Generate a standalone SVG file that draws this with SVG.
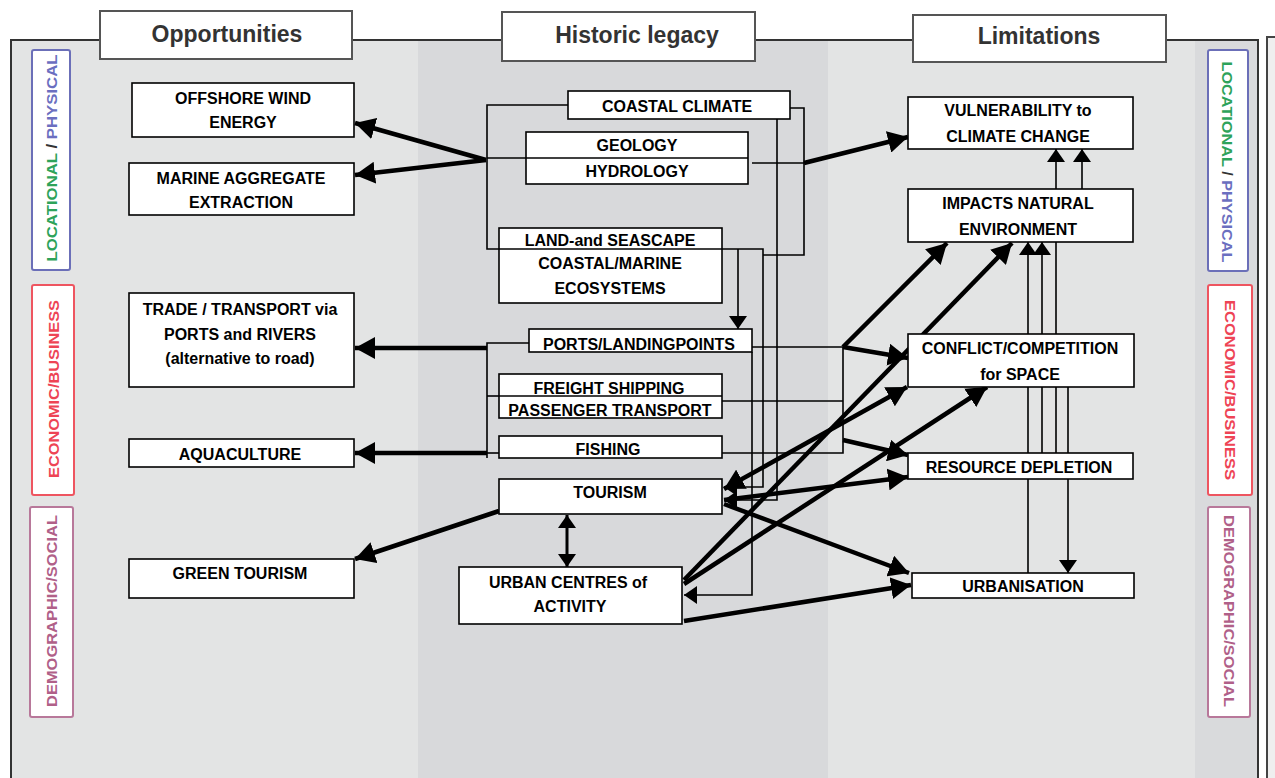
<svg xmlns="http://www.w3.org/2000/svg" width="1275" height="778" viewBox="0 0 1275 778">
<style>
.nb{fill:#fff;stroke:#000;stroke-width:1.6}
.nt{font-family:"Liberation Sans",Arial,sans-serif;font-weight:bold;font-size:16px;fill:#000;text-anchor:middle}
.ht{font-family:"Liberation Sans",Arial,sans-serif;font-weight:bold;font-size:23px;fill:#333;text-anchor:middle}
.hb{fill:#fff;stroke:#555;stroke-width:2}
.ct{font-family:"Liberation Sans",Arial,sans-serif;font-weight:bold;font-size:14px;text-anchor:middle;dominant-baseline:central}
.thin{fill:none;stroke:#000;stroke-width:1.6}
.thick{fill:none;stroke:#000;stroke-width:4.5}
.dv{stroke:#000;stroke-width:1.6}
</style>
<defs>
<marker id="ah" markerUnits="userSpaceOnUse" markerWidth="22" markerHeight="22" viewBox="0 0 22 22" refX="20" refY="11" orient="auto-start-reverse"><path d="M0,0 L20,11 L0,22 z" fill="#000"/></marker>
<marker id="as" markerUnits="userSpaceOnUse" markerWidth="14" markerHeight="18" viewBox="0 0 14 18" refX="13" refY="9" orient="auto-start-reverse"><path d="M0,0 L13,9 L0,18 z" fill="#000"/></marker>
</defs>
<rect x="0" y="0" width="1275" height="778" fill="#fff"/>
<g id="background">
<rect x="11" y="40" width="407" height="738" fill="#e3e4e4"/>
<rect x="418" y="40" width="410" height="738" fill="#d8d9db"/>
<rect x="828" y="40" width="367" height="738" fill="#e3e4e4"/>
<rect x="1195" y="40" width="63" height="738" fill="#d9dadc"/>
<rect x="1267" y="37" width="8" height="741" fill="#efefef"/>
<rect x="11" y="40" width="1247" height="760" fill="none" stroke="#333" stroke-width="2"/>
<path d="M1267,778 V37 H1275" fill="none" stroke="#444" stroke-width="2"/>
</g>
<g id="headers">
<rect class="hb" x="100" y="11" width="252" height="48"/>
<text class="ht" x="227" y="42">Opportunities</text>
<rect class="hb" x="502" y="12" width="253" height="49"/>
<text class="ht" x="637" y="43">Historic legacy</text>
<rect class="hb" x="913" y="15" width="253" height="47"/>
<text class="ht" x="1039" y="44">Limitations</text>
</g>
<g id="categories">
<rect x="32" y="50" width="38" height="220" rx="2" fill="#fff" stroke="#6b6fb8" stroke-width="2"/>
<text class="ct" transform="translate(52,158) rotate(-90)" textLength="207" lengthAdjust="spacingAndGlyphs"><tspan fill="#2ea35a">LOCATIONAL</tspan><tspan fill="#333"> / </tspan><tspan fill="#6b6fc0">PHYSICAL</tspan></text>
<rect x="32" y="285" width="42" height="210" rx="2" fill="#fff" stroke="#ee5560" stroke-width="2"/>
<text class="ct" transform="translate(54,389) rotate(-90)" fill="#ee4455" textLength="178" lengthAdjust="spacingAndGlyphs">ECONOMIC/BUSINESS</text>
<rect x="30" y="507" width="43" height="210" rx="2" fill="#fff" stroke="#b8789a" stroke-width="2"/>
<text class="ct" transform="translate(52,611) rotate(-90)" fill="#b06088" textLength="192" lengthAdjust="spacingAndGlyphs">DEMOGRAPHIC/SOCIAL</text>
<rect x="1208" y="50" width="40" height="221" rx="2" fill="#fff" stroke="#6b6fb8" stroke-width="2"/>
<text class="ct" transform="translate(1227,162) rotate(90)" textLength="201" lengthAdjust="spacingAndGlyphs"><tspan fill="#2ea35a">LOCATIONAL</tspan><tspan fill="#333"> / </tspan><tspan fill="#6b6fc0">PHYSICAL</tspan></text>
<rect x="1208" y="285" width="44" height="210" rx="2" fill="#fff" stroke="#ee5560" stroke-width="2"/>
<text class="ct" transform="translate(1230,390) rotate(90)" fill="#ee4455" textLength="180" lengthAdjust="spacingAndGlyphs">ECONOMIC/BUSINESS</text>
<rect x="1208" y="507" width="42" height="210" rx="2" fill="#fff" stroke="#b8789a" stroke-width="2"/>
<text class="ct" transform="translate(1229,611) rotate(90)" fill="#b06088" textLength="192" lengthAdjust="spacingAndGlyphs">DEMOGRAPHIC/SOCIAL</text>
</g>
<g id="connectors">
<path class="thin" d="M568,105 H487 V249 H763 V487 H724" marker-end="url(#as)"/>
<path class="thin" d="M487,158 H526"/>
<path class="thin" d="M790,108 H804 V255 H763"/>
<path class="thin" d="M752,163 H804"/>
<path class="thin" d="M777,119 V500 H724" marker-end="url(#as)"/>
<path class="thin" d="M738,249 V329" marker-end="url(#as)"/>
<path class="thin" d="M752,352 V595 H684" marker-end="url(#as)"/>
<path class="thin" d="M752,347 H843 V453 H722"/>
<path class="thin" d="M722,401 H843"/>
<path class="thin" d="M529,343 H487 V458"/>
<path class="thin" d="M499,396 H487"/>
<path class="thin" d="M499,453 H487"/>
<path class="thin" d="M1082,189 V149" marker-end="url(#as)"/>
<path class="thin" d="M1056,453 V149" marker-end="url(#as)"/>
<path class="thin" d="M1028,573 V242" marker-end="url(#as)"/>
<path class="thin" d="M1042,453 V242" marker-end="url(#as)"/>
<path class="thin" d="M1068,387 V573" marker-end="url(#as)"/>
<path class="thick" d="M486,160 L355,123" marker-end="url(#ah)"/>
<path class="thick" d="M486,160 L355,175" marker-end="url(#ah)"/>
<path class="thick" d="M804,163 L908,137" marker-end="url(#ah)"/>
<path class="thick" d="M487,348 L355,348" marker-end="url(#ah)"/>
<path class="thick" d="M487,453 L355,453" marker-end="url(#ah)"/>
<path class="thick" d="M843,347 L947,243" marker-end="url(#ah)"/>
<path class="thick" d="M843,347 L908,358" marker-end="url(#ah)"/>
<path class="thick" d="M843,440 L908,455" marker-end="url(#ah)"/>
<path class="thick" d="M724,489 L907,387" marker-start="url(#ah)" marker-end="url(#ah)"/>
<path class="thick" d="M724,500 L908,477" marker-end="url(#ah)"/>
<path class="thick" d="M724,504 L909,573" marker-end="url(#ah)"/>
<path class="thick" d="M684,580 L1012,243" marker-end="url(#ah)"/>
<path class="thick" d="M684,584 L987,387" marker-end="url(#ah)"/>
<path class="thick" d="M684,621 L911,585" marker-end="url(#ah)"/>
<path class="thick" d="M499,511 L355,559" marker-end="url(#ah)"/>
<path class="thin" style="stroke-width:3" d="M567,515 V567" marker-start="url(#as)" marker-end="url(#as)"/>
</g>
<g id="offshore"><rect class="nb" x="132" y="83" width="222" height="54"/><text class="nt" x="243" y="104">OFFSHORE WIND</text><text class="nt" x="243" y="128">ENERGY</text></g>
<g id="marine"><rect class="nb" x="129" y="163" width="225" height="52"/><text class="nt" x="241" y="184">MARINE AGGREGATE</text><text class="nt" x="241" y="208">EXTRACTION</text></g>
<g id="trade"><rect class="nb" x="129" y="293" width="225" height="94"/><text class="nt" x="240" y="315">TRADE / TRANSPORT via</text><text class="nt" x="240" y="340">PORTS and RIVERS</text><text class="nt" x="240" y="364">(alternative to road)</text></g>
<g id="aquaculture"><rect class="nb" x="129" y="439" width="225" height="28"/><text class="nt" x="240" y="460">AQUACULTURE</text></g>
<g id="greentourism"><rect class="nb" x="129" y="559" width="225" height="39"/><text class="nt" x="240" y="579">GREEN TOURISM</text></g>
<g id="coastalclimate"><rect class="nb" x="568" y="91" width="222" height="28"/><text class="nt" x="677" y="112">COASTAL CLIMATE</text></g>
<g id="geology"><rect class="nb" x="526" y="132" width="222" height="52"/><line class="dv" x1="526" y1="158" x2="748" y2="158"/><text class="nt" x="637" y="151">GEOLOGY</text><text class="nt" x="637" y="177">HYDROLOGY</text></g>
<g id="landscape"><rect class="nb" x="499" y="228" width="223" height="75"/><line class="dv" x1="499" y1="249" x2="722" y2="249"/><text class="nt" x="610" y="246">LAND-and SEASCAPE</text><text class="nt" x="610" y="269">COASTAL/MARINE</text><text class="nt" x="610" y="294">ECOSYSTEMS</text></g>
<g id="ports"><rect class="nb" x="529" y="329" width="223" height="23"/><text class="nt" x="639" y="350">PORTS/LANDINGPOINTS</text></g>
<g id="freight"><rect class="nb" x="499" y="374" width="223" height="44"/><line class="dv" x1="499" y1="396" x2="722" y2="396"/><text class="nt" x="609" y="394">FREIGHT SHIPPING</text><text class="nt" x="610" y="416">PASSENGER TRANSPORT</text></g>
<g id="fishing"><rect class="nb" x="499" y="436" width="223" height="22"/><text class="nt" x="608" y="455">FISHING</text></g>
<g id="tourism"><rect class="nb" x="499" y="479" width="223" height="35"/><text class="nt" x="610" y="498">TOURISM</text></g>
<g id="urban"><rect class="nb" x="459" y="567" width="223" height="57"/><text class="nt" x="568" y="588">URBAN CENTRES of</text><text class="nt" x="570" y="612">ACTIVITY</text></g>
<g id="vulnerability"><rect class="nb" x="908" y="97" width="225" height="52"/><text class="nt" x="1018" y="116">VULNERABILITY to</text><text class="nt" x="1018" y="142">CLIMATE CHANGE</text></g>
<g id="impacts"><rect class="nb" x="908" y="189" width="225" height="53"/><text class="nt" x="1018" y="209">IMPACTS NATURAL</text><text class="nt" x="1018" y="235">ENVIRONMENT</text></g>
<g id="conflict"><rect class="nb" x="908" y="334" width="226" height="53"/><text class="nt" x="1020" y="354">CONFLICT/COMPETITION</text><text class="nt" x="1020" y="380">for SPACE</text></g>
<g id="resource"><rect class="nb" x="908" y="453" width="225" height="26"/><text class="nt" x="1019" y="473">RESOURCE DEPLETION</text></g>
<g id="urbanisation"><rect class="nb" x="912" y="573" width="222" height="25"/><text class="nt" x="1023" y="592">URBANISATION</text></g>
</svg>
